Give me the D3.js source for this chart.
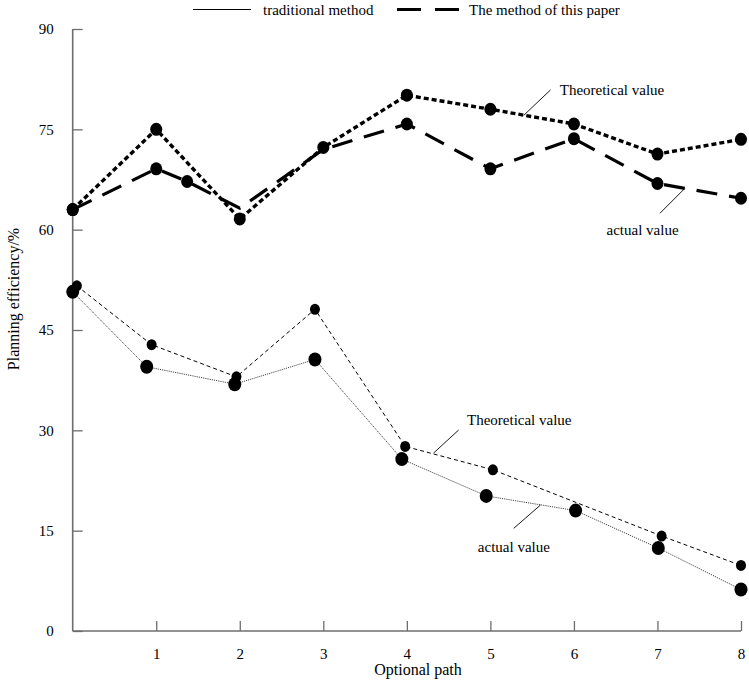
<!DOCTYPE html>
<html><head><meta charset="utf-8">
<script src="https://cdn.jsdelivr.net/npm/d3@7"></script>
<style>body{margin:0;background:#fff;} text{font-family:"Liberation Serif","Times New Roman",serif;fill:#000;}</style>
</head><body>
<svg id="c" width="749" height="694"></svg>
<script>
// ---- data ----
const xTicks = [1,2,3,4,5,6,7,8];
const yTicks = [0,15,30,45,60,75,90];
const seriesNames = ["traditional method","The method of this paper"];
// proposed method (upper group)
const paperTheoX = [0,1,2,3,4,5,6,7,8];
const paperTheoY = [63,75,61.6,72.3,80.1,78.0,75.8,71.3,73.5];
const paperActX = [0,1,1.37,2,3,4,5,6,7,8];
const paperActY = [63,69.1,67.2,63.2,72,75.8,69.1,73.6,66.9,64.7];
const paperActMarked = [true,true,true,false,false,true,true,true,true,true];
// traditional method (lower group)
const tradTheoX = [0.05,0.945,1.96,2.9,3.98,5.03,7.05,8];
const tradTheoY = [51.6,42.8,38.0,48.1,27.6,24.1,14.2,9.8];
const tradActX = [0,0.886,1.94,2.9,3.94,4.95,6.02,7.01,8];
const tradActY = [50.7,39.5,36.9,40.6,25.7,20.2,18.0,12.4,6.2];
const labelTexts = ["Theoretical value","actual value","Theoretical value","actual value"];
// annotation anchors in data units: [leaderFrom, leaderTo, textStart]
const annotations = [
  {t:0, from:[5.40,77.1], to:[5.72,80.9], at:[5.83,80.1]},
  {t:1, from:[7.33,66.2], to:[7.03,62.45], at:[6.39,59.2]},
  {t:2, from:[4.32,26.6], to:[4.62,30.05], at:[4.72,30.8]},
  {t:3, from:[5.60,18.84], to:[5.28,15.35], at:[4.85,11.8]}
];
const xTitle = "Optional path";
const yTitle = "Planning efficiency/%";

// ---- chart ----
const svg = d3.select("#c");
const x = d3.scaleLinear().domain([0,8]).range([72.7,741]);
const y = d3.scaleLinear().domain([0,90]).range([631,29]);
const axisColor = "#6e6e6e";

// axes
const gx = svg.append("g").attr("transform","translate(0,631)")
  .call(d3.axisBottom(x).tickValues(xTicks).tickSize(-10).tickPadding(20).tickFormat(d3.format("d")));
const gy = svg.append("g").attr("transform","translate(72.7,0)")
  .call(d3.axisLeft(y).tickValues(yTicks).tickSize(-10).tickPadding(19).tickFormat(d3.format("d")));
[gx,gy].forEach(g=>{
  g.select(".domain").attr("stroke",axisColor).attr("stroke-width",1.6);
  g.selectAll(".tick line").attr("stroke",axisColor).attr("stroke-width",1.3);
  g.selectAll(".tick text").attr("font-size",15).style("font-family","Liberation Serif");
});
gx.select(".domain").attr("d","M72.7,0H741");
gy.select(".domain").attr("d","M0,631V29");
gx.selectAll(".tick text").attr("dy","0.5em");

const line = (xs,ys)=>d3.line().x((d,i)=>x(xs[i])).y((d,i)=>y(ys[i]))(ys);

// lines
svg.append("path").attr("d",line(tradActX,tradActY)).attr("fill","none")
  .attr("stroke","#444").attr("stroke-width",1).attr("stroke-dasharray","1.2,1");
svg.append("path").attr("d",line(tradTheoX,tradTheoY)).attr("fill","none")
  .attr("stroke","#000").attr("stroke-width",1).attr("stroke-dasharray","4,3");
svg.append("path").attr("d",line(paperActX,paperActY)).attr("fill","none")
  .attr("stroke","#000").attr("stroke-width",3.2).attr("stroke-dasharray","21,12");
svg.append("path").attr("d",line(paperTheoX,paperTheoY)).attr("fill","none")
  .attr("stroke","#000").attr("stroke-width",3.4).attr("stroke-dasharray","5,3");

// markers
function dots(xs,ys,r,rx,mask){
  svg.append("g").selectAll("ellipse").data(ys.map((v,i)=>[xs[i],v,i]).filter(d=>!mask||mask[d[2]]))
    .join("ellipse").attr("cx",d=>x(d[0])).attr("cy",d=>y(d[1])).attr("rx",rx).attr("ry",r).attr("fill","#000");
}
dots(tradActX,tradActY,7,6.5);
dots(tradTheoX,tradTheoY,5.5,5);
dots(paperActX,paperActY,6.5,6,paperActMarked);
dots(paperTheoX,paperTheoY,6.5,6);

// annotations
annotations.forEach(a=>{
  svg.append("line").attr("x1",x(a.from[0])).attr("y1",y(a.from[1]))
    .attr("x2",x(a.to[0])).attr("y2",y(a.to[1])).attr("stroke","#000").attr("stroke-width",0.9);
  svg.append("text").attr("x",x(a.at[0])).attr("y",y(a.at[1])).attr("font-size",15).text(labelTexts[a.t]);
});

// legend
const lg = svg.append("g");
lg.append("line").attr("x1",193).attr("x2",251).attr("y1",9.5).attr("y2",9.5).attr("stroke","#000").attr("stroke-width",1);
lg.append("text").attr("x",263).attr("y",14.5).attr("font-size",15).text(seriesNames[0]);
lg.append("line").attr("x1",397).attr("x2",459).attr("y1",9.5).attr("y2",9.5).attr("stroke","#000")
  .attr("stroke-width",3).attr("stroke-dasharray","24,14");
lg.append("text").attr("x",469).attr("y",14.5).attr("font-size",15).text(seriesNames[1]);

// titles
svg.append("text").attr("x",418).attr("y",675).attr("text-anchor","middle").attr("font-size",16).text(xTitle);
svg.append("text").attr("transform","translate(19,299) rotate(-90)").attr("text-anchor","middle").attr("font-size",16).text(yTitle);
</script>
</body></html>
